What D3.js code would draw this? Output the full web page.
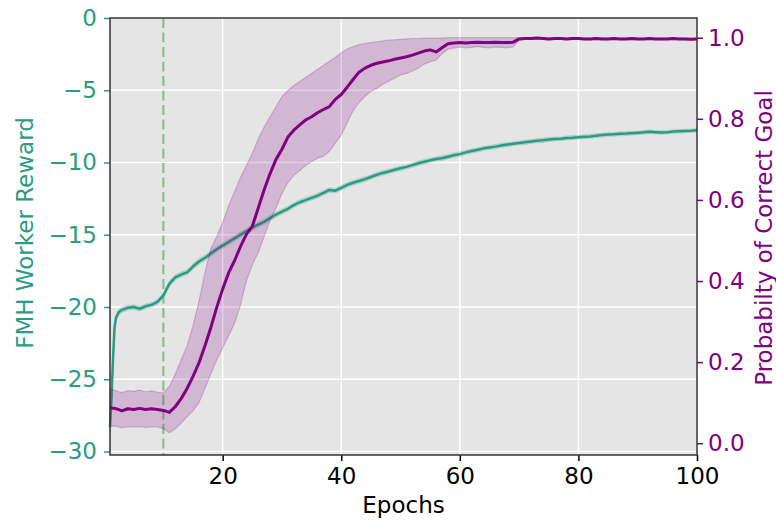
<!DOCTYPE html>
<html>
<head>
<meta charset="utf-8">
<script src="https://cdn.jsdelivr.net/npm/d3@7"></script>
<style>
  body { margin: 0; background: #fff; }
  text { font-family: "DejaVu Sans", sans-serif; }
</style>
</head>
<body>
<div id="chart"></div>
<script>
// FMH worker reward (left axis) versus probability of correct goal (right axis)

var epochs = [1, 1.25, 1.5, 1.75, 2, 2.5, 3, 4, 5, 6, 7, 8, 9, 10,
  11, 12, 13, 14, 15, 16, 17, 18, 19, 20, 21, 22, 23, 24, 25, 26, 27, 28, 29, 30,
  31, 32, 33, 34, 35, 36, 37, 38, 39, 40, 41, 42, 43, 44, 45, 46, 47, 48, 49, 50,
  51, 52, 53, 54, 55, 56, 57, 58, 59, 60, 61, 62, 63, 64, 65, 66, 67, 68, 69, 70,
  71, 72, 73, 74, 75, 76, 77, 78, 79, 80, 81, 82, 83, 84, 85, 86, 87, 88, 89, 90,
  91, 92, 93, 94, 95, 96, 97, 98, 99, 100];

var reward = [-28.3, -26.3, -23.7, -21.5, -20.75, -20.35, -20.2, -20.05, -20.0, -20.12, -19.95, -19.85, -19.65, -19.2,
  -18.4, -17.95, -17.75, -17.6, -17.2, -16.85, -16.6, -16.3, -16.0, -15.75, -15.5, -15.25, -15.0, -14.75, -14.5, -14.3, -14.1, -13.85, -13.6, -13.4,
  -13.2, -12.95, -12.75, -12.6, -12.45, -12.3, -12.1, -11.9, -11.95, -11.75, -11.55, -11.4, -11.28, -11.15, -11.0, -10.85, -10.72, -10.62, -10.5, -10.4,
  -10.3, -10.18, -10.05, -9.95, -9.85, -9.76, -9.7, -9.6, -9.5, -9.42, -9.3, -9.2, -9.12, -9.02, -8.96, -8.9, -8.82, -8.76, -8.7, -8.65,
  -8.6, -8.55, -8.5, -8.46, -8.41, -8.37, -8.36, -8.3, -8.28, -8.25, -8.22, -8.2, -8.14, -8.1, -8.06, -8.05, -8.01, -8.0, -7.97, -7.94,
  -7.91, -7.87, -7.9, -7.93, -7.9, -7.86, -7.84, -7.82, -7.8, -7.77];

var rewardStd = [0.45, 0.5, 0.45, 0.35, 0.25, 0.2, 0.18, 0.17, 0.16, 0.17, 0.16, 0.16, 0.17, 0.18,
  0.2, 0.19, 0.18, 0.18, 0.19, 0.2, 0.19, 0.18, 0.19, 0.2, 0.19, 0.18, 0.18, 0.19, 0.2, 0.19, 0.18, 0.19, 0.18, 0.17,
  0.18, 0.17, 0.18, 0.17, 0.16, 0.17, 0.18, 0.17, 0.16, 0.17, 0.16, 0.16, 0.17, 0.16, 0.15, 0.16, 0.17, 0.16, 0.15, 0.16,
  0.15, 0.16, 0.15, 0.16, 0.15, 0.15, 0.16, 0.15, 0.15, 0.16, 0.15, 0.14, 0.15, 0.15, 0.14, 0.15, 0.14, 0.15, 0.14, 0.14,
  0.15, 0.14, 0.14, 0.15, 0.14, 0.14, 0.13, 0.14, 0.14, 0.13, 0.14, 0.13, 0.13, 0.14, 0.13, 0.13, 0.14, 0.13, 0.13, 0.12,
  0.13, 0.13, 0.12, 0.13, 0.12, 0.12, 0.13, 0.12, 0.12, 0.12];

var goalMean = [0.088, 0.087, 0.086, 0.086, 0.085, 0.083, 0.080, 0.085, 0.083, 0.086, 0.083, 0.085, 0.083, 0.081,
  0.076, 0.090, 0.110, 0.135, 0.165, 0.198, 0.240, 0.285, 0.335, 0.380, 0.420, 0.450, 0.485, 0.515, 0.535, 0.580, 0.625, 0.665, 0.700, 0.725,
  0.755, 0.772, 0.785, 0.797, 0.805, 0.815, 0.823, 0.830, 0.848, 0.860, 0.878, 0.897, 0.915, 0.925, 0.932, 0.937, 0.940, 0.943, 0.947, 0.950,
  0.953, 0.957, 0.962, 0.967, 0.970, 0.965, 0.975, 0.985, 0.987, 0.988, 0.987, 0.988, 0.989, 0.988, 0.988, 0.989, 0.988, 0.988, 0.989, 0.997,
  0.998, 0.998, 0.999, 0.998, 0.997, 0.998, 0.998, 0.997, 0.998, 0.998, 0.997, 0.997, 0.998, 0.997, 0.997, 0.998, 0.997, 0.997, 0.998, 0.997,
  0.997, 0.998, 0.997, 0.997, 0.997, 0.998, 0.997, 0.997, 0.996, 0.997];

var goalLow = [0.040, 0.041, 0.042, 0.042, 0.042, 0.040, 0.038, 0.041, 0.040, 0.041, 0.039, 0.040, 0.040, 0.036,
  0.026, 0.035, 0.050, 0.065, 0.080, 0.100, 0.135, 0.170, 0.205, 0.235, 0.265, 0.295, 0.340, 0.400, 0.440, 0.470, 0.510, 0.550, 0.580, 0.615,
  0.643, 0.660, 0.672, 0.685, 0.695, 0.703, 0.708, 0.720, 0.740, 0.760, 0.790, 0.820, 0.840, 0.855, 0.868, 0.875, 0.885, 0.893, 0.900, 0.908,
  0.912, 0.918, 0.925, 0.935, 0.940, 0.945, 0.960, 0.972, 0.975, 0.977, 0.975, 0.976, 0.978, 0.976, 0.975, 0.977, 0.976, 0.975, 0.977, 0.994,
  0.996, 0.996, 0.997, 0.996, 0.995, 0.996, 0.996, 0.995, 0.996, 0.996, 0.995, 0.995, 0.996, 0.995, 0.995, 0.996, 0.995, 0.995, 0.996, 0.995,
  0.995, 0.996, 0.995, 0.995, 0.995, 0.996, 0.995, 0.995, 0.994, 0.995];

var goalHigh = [0.135, 0.134, 0.132, 0.131, 0.130, 0.127, 0.125, 0.130, 0.128, 0.131, 0.127, 0.129, 0.126, 0.124,
  0.140, 0.170, 0.205, 0.240, 0.290, 0.350, 0.420, 0.480, 0.510, 0.545, 0.585, 0.620, 0.655, 0.685, 0.715, 0.750, 0.780, 0.805, 0.830, 0.855,
  0.870, 0.882, 0.892, 0.902, 0.912, 0.922, 0.932, 0.942, 0.952, 0.962, 0.972, 0.978, 0.983, 0.986, 0.988, 0.990, 0.992, 0.994, 0.995, 0.996,
  0.997, 0.998, 0.998, 0.999, 0.999, 0.999, 0.999, 1.0, 1.0, 1.0, 1.0, 1.0, 1.0, 1.0, 1.0, 1.0, 1.0, 1.0, 1.0, 1.0,
  1.0, 1.0, 1.0, 1.0, 0.999, 1.0, 1.0, 0.999, 1.0, 1.0, 0.999, 0.999, 1.0, 0.999, 0.999, 1.0, 0.999, 0.999, 1.0, 0.999,
  0.999, 1.0, 0.999, 0.999, 0.999, 1.0, 0.999, 0.999, 0.998, 0.999];

var switchEpoch = 10;
var xTicks = [20, 40, 60, 80, 100];
var rewardTicks = [0, -5, -10, -15, -20, -25, -30];
var goalTicks = [0, 0.2, 0.4, 0.6, 0.8, 1.0];

var teal = "#2a9c7f";
var purple = "#800080";

var svgWidth = 776;
var svgHeight = 525;
var margin = { top: 18, right: 79, bottom: 70, left: 110 };
var width = svgWidth - margin.left - margin.right;
var height = svgHeight - margin.top - margin.bottom;

var svg = d3.select("#chart")
  .append("svg")
  .attr("width", svgWidth)
  .attr("height", svgHeight);

var chartGroup = svg.append("g")
  .attr("transform", `translate(${margin.left}, ${margin.top})`);

var data = epochs.map(function(e, i) {
  return { epoch: e, reward: reward[i], std: rewardStd[i], mean: goalMean[i], low: goalLow[i], high: goalHigh[i] };
});

// scales
var xScale = d3.scaleLinear().domain([1, 100]).range([0, width]);
var yLeft = d3.scaleLinear().domain([-30.24, 0]).range([height, 0]);
var yRight = d3.scaleLinear().domain([-0.029, 1.0486]).range([height, 0]);

// background
chartGroup.append("rect")
  .attr("width", width)
  .attr("height", height)
  .attr("fill", "#e5e5e5");

// grid
chartGroup.append("g").selectAll("line")
  .data(rewardTicks)
  .enter()
  .append("line")
  .attr("x1", 0).attr("x2", width)
  .attr("y1", d => yLeft(d)).attr("y2", d => yLeft(d))
  .attr("stroke", "#fff").attr("stroke-width", 1.5);

chartGroup.append("g").selectAll("line")
  .data(xTicks)
  .enter()
  .append("line")
  .attr("x1", d => xScale(d)).attr("x2", d => xScale(d))
  .attr("y1", 0).attr("y2", height)
  .attr("stroke", "#fff").attr("stroke-width", 1.5);

// switch marker
chartGroup.append("line")
  .attr("x1", xScale(switchEpoch)).attr("x2", xScale(switchEpoch))
  .attr("y1", 0).attr("y2", height)
  .attr("stroke", "#2ca02c")
  .attr("stroke-opacity", 0.5)
  .attr("stroke-width", 2.2)
  .attr("stroke-dasharray", "10,4.5");

// reward band + line
var rewardArea = d3.area()
  .x(d => xScale(d.epoch))
  .y0(d => yLeft(d.reward - d.std))
  .y1(d => yLeft(d.reward + d.std));

chartGroup.append("path")
  .datum(data)
  .attr("d", rewardArea)
  .attr("fill", teal)
  .attr("fill-opacity", 0.2)
  .attr("stroke", teal)
  .attr("stroke-opacity", 0.2)
  .attr("stroke-width", 1);

chartGroup.append("path")
  .datum(data)
  .attr("d", d3.line().x(d => xScale(d.epoch)).y(d => yLeft(d.reward)))
  .attr("fill", "none")
  .attr("stroke", teal)
  .attr("stroke-width", 2.5)
  .attr("stroke-linejoin", "round");

// goal band + line
var goalArea = d3.area()
  .x(d => xScale(d.epoch))
  .y0(d => yRight(d.low))
  .y1(d => yRight(d.high));

chartGroup.append("path")
  .datum(data)
  .attr("d", goalArea)
  .attr("fill", purple)
  .attr("fill-opacity", 0.2)
  .attr("stroke", purple)
  .attr("stroke-opacity", 0.22)
  .attr("stroke-width", 1.2);

chartGroup.append("path")
  .datum(data)
  .attr("d", d3.line().x(d => xScale(d.epoch)).y(d => yRight(d.mean)))
  .attr("fill", "none")
  .attr("stroke", purple)
  .attr("stroke-width", 3)
  .attr("stroke-linejoin", "round");

// axes
var bottomAxis = d3.axisBottom(xScale).tickValues(xTicks).tickSize(6).tickPadding(7);
var leftAxis = d3.axisLeft(yLeft).tickValues(rewardTicks).tickSize(6).tickPadding(7);
var rightAxis = d3.axisRight(yRight).tickValues(goalTicks).tickFormat(d3.format(".1f")).tickSize(6).tickPadding(5);

var gx = chartGroup.append("g")
  .attr("transform", `translate(0, ${height})`)
  .call(bottomAxis);
gx.selectAll("text").attr("fill", "#000").style("font-size", "23px");
gx.selectAll("line").attr("stroke", "#000").attr("stroke-width", 1.5);

var gl = chartGroup.append("g").call(leftAxis);
gl.selectAll("text").attr("fill", teal).style("font-size", "23px");
gl.selectAll("line").attr("stroke", teal).attr("stroke-width", 1.5);

var gr = chartGroup.append("g")
  .attr("transform", `translate(${width}, 0)`)
  .call(rightAxis);
gr.selectAll("text").attr("fill", purple).style("font-size", "23px");
gr.selectAll("line").attr("stroke", purple).attr("stroke-width", 1.5);

[gx, gl, gr].forEach(g => g.select(".domain").remove());

// frame
chartGroup.append("rect")
  .attr("width", width)
  .attr("height", height)
  .attr("fill", "none")
  .attr("stroke", "#333")
  .attr("stroke-width", 1.5);

// axis labels
svg.append("text")
  .attr("transform", `translate(33, 233) rotate(-90)`)
  .attr("text-anchor", "middle")
  .attr("fill", teal)
  .style("font-size", "23px")
  .text("FMH Worker Reward");

svg.append("text")
  .attr("transform", `translate(772, 238) rotate(-90)`)
  .attr("text-anchor", "middle")
  .attr("fill", purple)
  .style("font-size", "23px")
  .text("Probabilty of Correct Goal");

svg.append("text")
  .attr("x", margin.left + width / 2)
  .attr("y", 513)
  .attr("text-anchor", "middle")
  .attr("fill", "#000")
  .style("font-size", "23px")
  .text("Epochs")
</script>
</body>
</html>
